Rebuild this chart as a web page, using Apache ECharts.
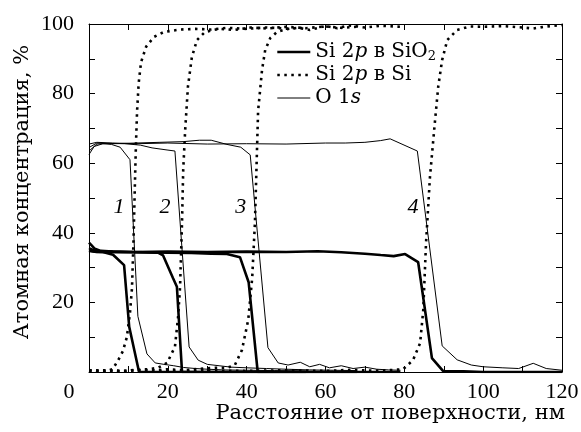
<!DOCTYPE html>
<html>
<head>
<meta charset="utf-8">
<script src="https://cdn.jsdelivr.net/npm/echarts@6/dist/echarts.min.js"></script>
<style>
  html, body { margin: 0; padding: 0; background: #fff; }
  #chart { width: 581px; height: 432px; }
</style>
</head>
<body>
<div id="chart"></div>
<script>
// Depth profiles [depth nm, atomic %] for four oxide thicknesses (1-4)
const siO2_1 = [[0,35],[1.3,34.6],[3.5,34.5],[6.1,33.7],[8.9,30.7],[10.2,13],[12.7,0],[20,0],[30,0],[40,0],[55,0]];
const si_1 = [[0,0.5],[2,0.3],[4,0.2],[6,0.8],[7.4,3.4],[8.6,6],[9.6,10],[10.4,17],[10.9,24],[11.3,38],[11.6,52],[11.9,65],[12.2,75],[12.6,83],[13.2,89],[14.5,93.5],[16.5,96.3],[19,97.7],[23,98.4],[27,98.6],[31,98.4],[35,98.9],[40,98.6],[45,99],[50,98.7],[55,98.9]];
const o_1 = [[0,62.5],[1.3,64.8],[3.5,65.6],[5.7,65.4],[7.9,64.6],[10.4,61],[12.4,16],[14.7,5.2],[16.8,2.6],[19,2.2],[21.5,1.8],[24,1.3],[27,1],[30,0.8],[34,0.6],[40,0.5],[47,0.4],[55,0.3]];

const siO2_2 = [[0,37.2],[1.5,35.4],[3,34.8],[6,34.6],[10,34.5],[14,34.4],[17.5,34.3],[18.8,33.5],[21.3,27],[22.3,24.5],[23.6,0],[30,0],[40,0],[50,0],[68,0]];
const si_2 = [[0,0.5],[3,0.3],[6,0.5],[9,0.2],[12,0.6],[15,0.8],[17.5,1.2],[19.8,2.6],[21.8,7.2],[22.6,15.8],[23.1,24.4],[23.6,43],[23.9,58],[24.4,69.5],[25.1,82],[26.1,90.5],[27.4,95.4],[29.4,97.7],[33,98.6],[37,98.3],[41,99],[45,98.7],[50,99.2],[55,98.8],[60,99.3],[64,98.9],[68,99.2]];
const o_2 = [[0,63.5],[2,65.5],[5,65.7],[9,65.6],[13,65.2],[16,64.4],[19.8,63.8],[21.8,63.5],[25.4,7.2],[27.7,3.4],[30,2.2],[33,1.8],[36,1.4],[40,1.2],[45,1],[50,0.8],[56,0.6],[62,0.5],[68,0.4]];

const siO2_3 = [[0,35.6],[2,34.6],[6,34.5],[12,34.4],[20,34.3],[26,34.2],[31,34],[35,33.9],[38.3,33],[40.5,25.8],[42.8,0],[50,0],[60,0],[70,0],[79,0]];
const si_3 = [[0,0.4],[4,0.5],[8,0.2],[12,0.6],[16,0.4],[20,0.8],[24,0.5],[28,0.9],[32,1.2],[35,1.2],[37,2],[38.8,6.3],[40.4,15],[41.4,27],[42.1,43],[42.6,63],[42.9,75],[43.9,86.8],[44.7,92.5],[46,96],[47.7,97.7],[50,98.5],[53,98.9],[56,98.3],[60,99.4],[63,98.8],[66,99.6],[70,99],[74,99.5],[79,99.2]];
const o_3 = [[0,64.5],[2,65.8],[6,65.6],[12,65.8],[18,66],[24,66.2],[28,66.6],[31,66.6],[35,65.4],[38.5,64.6],[40.9,62.4],[45.4,7],[48,2.6],[50.5,2],[53.6,2.8],[56,1.5],[58.5,2.2],[61,1.2],[64,1.8],[67,1],[70,1.4],[73,0.8],[76,0.6],[79,0.5]];

const siO2_4 = [[0,34.8],[2,34.5],[6,34.6],[12,34.5],[20,34.6],[30,34.5],[40,34.6],[50,34.5],[58,34.7],[64,34.4],[70,34],[74,33.6],[77.3,33.3],[80.2,33.9],[83.5,31.6],[87,4],[89.8,0.3],[95,0.2],[100,0],[110,0],[120,0]];
const si_4 = [[0,0.3],[6,0.2],[12,0.5],[20,0.3],[30,0.4],[40,0.3],[50,0.5],[60,0.3],[66,0.6],[72,0.4],[76,0.5],[79.7,0.8],[82.2,3.4],[84,8.3],[84.8,17.8],[85.5,37],[86.5,56],[87.8,72.4],[88.6,82],[89.6,89.7],[90.9,95.4],[93.4,98.3],[96.7,99.3],[100,99.2],[105,99.4],[110,99],[112.7,98.7],[116,99.3],[120,99.7]];
const o_4 = [[0,65.5],[2,66],[6,65.8],[12,65.6],[20,65.8],[30,65.5],[40,65.6],[50,65.5],[60,65.8],[65,65.8],[70,66],[74,66.5],[76.4,67],[83.3,63.5],[89.6,7.5],[93.4,3.5],[97,2],[100,1.5],[105,1.2],[109,1],[112.7,2.5],[116,1],[120,0.5]];

// Sample numbers placed next to each profile
const sampleTags = [[7.6,47.4,'1'],[19.3,47.4,'2'],[38.5,47.4,'3'],[82.2,47.4,'4']];

const xTicks = { min: 0, max: 120, step: 10 };
const yTicks = { min: 0, max: 100, step: 10 };

const NAME_SIO2 = 'Si 2p в SiO2';
const NAME_SI = 'Si 2p в Si';
const NAME_O = 'O 1s';

const NUM_FONT = 'Liberation Serif';
const TXT_FONT = 'DejaVu Serif';
const FS = 22;

const thick = { color: '#000', width: 2.6, type: 'solid' };
const dotted = { color: '#000', width: 2.6, type: [2.5, 4.5], cap: 'butt' };
const thin = { color: '#000', width: 1, type: 'solid' };

function line(name, data, style, z) {
  return {
    name, type: 'line', data, symbol: 'none', z: z,
    lineStyle: style, itemStyle: { color: '#000' },
    animation: false, silent: true
  };
}

const series = [
  line(NAME_SIO2, siO2_1, thick, 3), line(NAME_SIO2, siO2_2, thick, 3),
  line(NAME_SIO2, siO2_3, thick, 3), line(NAME_SIO2, siO2_4, thick, 3),
  line(NAME_SI, si_1, dotted, 2), line(NAME_SI, si_2, dotted, 2),
  line(NAME_SI, si_3, dotted, 2), line(NAME_SI, si_4, dotted, 2),
  line(NAME_O, o_1, thin, 4), line(NAME_O, o_2, thin, 4),
  line(NAME_O, o_3, thin, 4), line(NAME_O, o_4, thin, 4),
  {
    name: 'tags', type: 'scatter', data: sampleTags, symbolSize: 0,
    animation: false, silent: true,
    itemStyle: { opacity: 1, color: '#000' },
    label: {
      show: true, position: 'inside', formatter: p => p.value[2],
      fontFamily: NUM_FONT, fontStyle: 'italic', fontSize: FS, color: '#000',
      textBorderWidth: 0, opacity: 1
    }
  }
];

const axisBase = {
  type: 'value',
  axisLine: { show: true, onZero: false, lineStyle: { color: '#000', width: 1 } },
  axisTick: { show: true, inside: true, length: 6, lineStyle: { color: '#000', width: 1 } },
  splitLine: { show: false }
};

const legendText = {
  [NAME_SIO2]: 'Si 2{i|p} в SiO{s|2}',
  [NAME_SI]: 'Si 2{i|p} в Si',
  [NAME_O]: 'O 1{i|s}'
};

const option = {
  backgroundColor: '#fff',
  animation: false,
  grid: { left: 89, right: 19, top: 24, bottom: 60, containLabel: false, outerBoundsMode: 'none' },
  xAxis: [
    Object.assign({}, axisBase, {
      min: xTicks.min, max: xTicks.max, interval: xTicks.step, position: 'bottom',
      name: 'Расстояние от поверхности, нм', nameLocation: 'end', nameGap: 3,
      nameMoveOverlap: false,
      nameTextStyle: { fontFamily: TXT_FONT, fontSize: 21, color: '#000', align: 'right', verticalAlign: 'top', padding: [31, 0, 0, 0] },
      axisLabel: {
        margin: 9, fontFamily: NUM_FONT, fontSize: FS, color: '#000',
        formatter: v => (v % 20 !== 0 ? '' : (v === 0 ? '{z|0}' : String(v))),
        rich: { z: { fontFamily: NUM_FONT, fontSize: FS, color: '#000', padding: [0, 40, 0, 0] } }
      }
    }),
    Object.assign({}, axisBase, {
      min: xTicks.min, max: xTicks.max, interval: xTicks.step, position: 'top',
      axisLabel: { show: false }
    })
  ],
  yAxis: [
    Object.assign({}, axisBase, {
      min: yTicks.min, max: yTicks.max, interval: yTicks.step, position: 'left',
      name: 'Атомная концентрация, %', nameLocation: 'middle', nameGap: 56,
      nameMoveOverlap: false,
      nameTextStyle: { fontFamily: TXT_FONT, fontSize: 21, color: '#000', padding: [0, 0, 0, 12] },
      axisLabel: {
        margin: 15, fontFamily: NUM_FONT, fontSize: FS, color: '#000',
        formatter: v => (v % 20 !== 0 || v === 0 ? '' : String(v))
      }
    }),
    Object.assign({}, axisBase, {
      min: yTicks.min, max: yTicks.max, interval: yTicks.step, position: 'right',
      axisLabel: { show: false }
    })
  ],
  legend: {
    data: [
      { name: NAME_SIO2, lineStyle: thick },
      { name: NAME_SI, lineStyle: dotted },
      { name: NAME_O, lineStyle: thin }
    ],
    orient: 'vertical', left: 271, top: 36,
    itemWidth: 33, itemHeight: 14, itemGap: 1,
    icon: 'inherit',
    itemStyle: { opacity: 0 },
    textStyle: {
      fontFamily: TXT_FONT, fontSize: 20, color: '#000', lineHeight: 22,
      rich: {
        i: { fontFamily: TXT_FONT, fontSize: 20, fontStyle: 'italic', color: '#000' },
        s: { fontFamily: TXT_FONT, fontSize: 13, color: '#000', verticalAlign: 'bottom', padding: [9, 0, 0, 0] }
      }
    },
    formatter: n => legendText[n],
    selectedMode: false
  },
  series
};

const chart = echarts.init(document.getElementById('chart'), null, { renderer: 'canvas' });
chart.setOption(option);
</script>
</body>
</html>
